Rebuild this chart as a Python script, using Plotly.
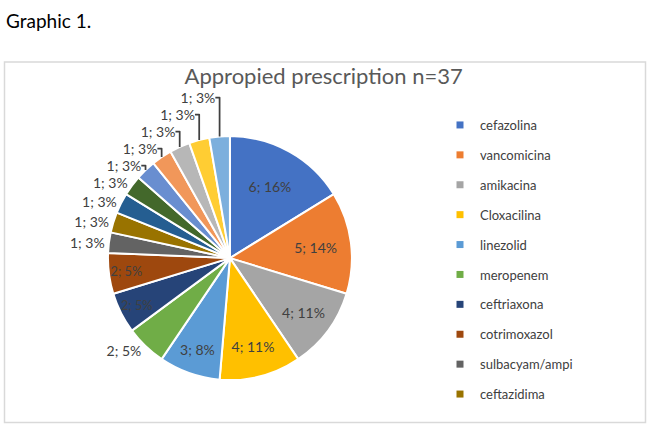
import plotly.graph_objects as go

labels = ["cefazolina", "vancomicina", "amikacina", "Cloxacilina", "linezolid",
          "meropenem", "ceftriaxona", "cotrimoxazol", "sulbacyam/ampi", "ceftazidima",
          "category 11", "category 12", "category 13", "category 14", "category 15",
          "category 16", "category 17"]
values = [6, 5, 4, 4, 3, 2, 2, 2, 1, 1, 1, 1, 1, 1, 1, 1, 1]
colors = ["#4472C4", "#ED7D31", "#A5A5A5", "#FFC000", "#5B9BD5", "#70AD47",
          "#264478", "#9E480E", "#636363", "#997300", "#255E91", "#43682B",
          "#698ED0", "#F1975A", "#B7B7B7", "#FFCD33", "#7CAFDD"]
text_pos = ["inside", "inside", "inside", "inside", "inside", "outside",
            "inside", "inside"] + ["outside"] * 9
legend_count = 10

FONT = "Lato"
TXT = "#404040"

fig = go.Figure()
fig.add_trace(go.Pie(
    labels=labels, values=values, sort=False, direction="clockwise", rotation=0,
    marker=dict(colors=colors, line=dict(color="white", width=2)),
    texttemplate="%{value}; %{percent:.0%}", textposition=text_pos,
    insidetextorientation="horizontal",
    textfont=dict(family=FONT, size=14, color=TXT),
    showlegend=False,
    domain=dict(x=[0.166, 0.5415], y=[0.112, 0.682]),
))

for i in range(legend_count):
    fig.add_trace(go.Scatter(
        x=[None], y=[None], mode="markers", name=labels[i],
        marker=dict(symbol="square", size=7, color=colors[i]),
        legendgroup=str(i), showlegend=True,
    ))

fig.update_xaxes(visible=False)
fig.update_yaxes(visible=False)

fig.update_layout(
    width=650, height=428,
    margin=dict(l=0, r=0, t=0, b=0),
    paper_bgcolor="white", plot_bgcolor="white",
    title=dict(text="Appropied prescription n=37", x=0.498, xanchor="center",
               y=1 - 76 / 428, yanchor="middle",
               font=dict(family=FONT, size=22, color="#595959")),
    legend=dict(x=440 / 650, xanchor="left", y=1 - 110 / 428, yanchor="top",
                font=dict(family=FONT, size=13, color=TXT),
                tracegroupgap=10, itemwidth=30, bgcolor="rgba(0,0,0,0)"),
    shapes=[dict(type="rect", xref="paper", yref="paper",
                 x0=4.5 / 650, x1=645.5 / 650, y0=1 - 422.5 / 428, y1=1 - 62 / 428,
                 line=dict(color="#D9D9D9", width=1.5), layer="below")],
    annotations=[dict(text="Graphic 1.", xref="paper", yref="paper",
                      x=4 / 650, y=1 - 20 / 428, xanchor="left", yanchor="middle",
                      showarrow=False, font=dict(family=FONT, size=19, color="black"))],
)

fig.write_html("out.html")
